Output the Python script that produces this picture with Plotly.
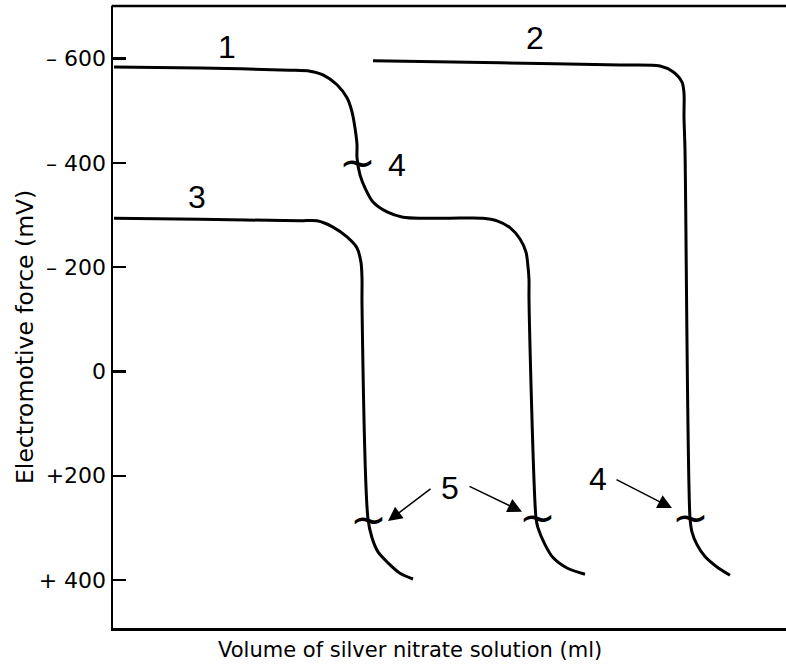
import plotly.graph_objects as go

# Volume axis is unscaled in the original (arbitrary units)
curve1_x = [0.1, 8.7, 17.7, 19.7, 21.0, 22.4, 23.4, 23.9, 24.2, 24.4, 24.4, 24.7, 25.2, 26.0,
            27.4, 29.0, 31.0, 33.7, 37.0, 38.4, 39.7, 40.7, 41.3, 41.5, 41.6, 41.6, 42.3,
            42.5, 43.2, 44.0, 45.4, 47.2]
curve1_y = [-584, -582, -578, -576, -569, -550, -525, -498, -467, -435, -410, -377, -352, -325,
            -306, -296, -294, -294, -294, -289, -276, -254, -229, -201, -176, -137, 281,
            300, 332, 357, 377, 389]

curve2_x = [26.0, 38.7, 50.7, 54.7, 56.0, 56.9, 57.1, 57.1, 57.2, 57.7, 57.9, 58.4, 59.2, 60.4, 61.7]
curve2_y = [-596, -592, -588, -586, -575, -555, -534, -488, -425, 281, 308, 332, 355, 375, 391]

curve3_x = [0.1, 8.7, 18.7, 20.4, 22.0, 23.4, 24.4, 24.8, 24.9, 24.9, 25.5, 25.9, 26.5, 27.5, 28.7, 30.0]
curve3_y = [-294, -292, -289, -289, -277, -258, -237, -209, -179, -128, 283, 319, 346, 367, 387, 398]

# curve number labels
label_text = ["1", "2", "3", "4", "5", "4"]
label_x = [11.4, 42.2, 8.4, 28.4, 33.7, 48.5]
label_y = [-622, -640, -335, -396, 223, 206]

# break marks (~) on the curves
break_x = [24.4, 25.5, 42.4, 57.7]
break_y = [-400, 283, 281, 281]

# arrows: (tail) -> (head)
arrow_tail_x = [31.9, 35.5, 50.2]
arrow_tail_y = [223, 219, 206]
arrow_head_x = [27.5, 40.9, 55.9]
arrow_head_y = [287, 269, 262]

tick_vals = [-600, -400, -200, 0, 200, 400]
tick_text = ["\u2013 600", "\u2013 400", "\u2013 200", "0", "+200", "+ 400"]

x_title = "Volume of silver nitrate solution (ml)"
y_title = "Electromotive force (mV)"

FONT = "DejaVu Sans, sans-serif"
LFONT = "Liberation Sans, Arial, sans-serif"

W, H = 786, 666
ML, MR, MT, MB = 113, 0, 6, 38
X_MAX = 67.3

fig = go.Figure()
for xs, ys, nm in [(curve1_x, curve1_y, "1"), (curve2_x, curve2_y, "2"), (curve3_x, curve3_y, "3")]:
    fig.add_trace(go.Scatter(x=xs, y=ys, mode="lines", name=nm,
                             line=dict(color="black", width=3, shape="spline", smoothing=0.8),
                             hoverinfo="skip"))

annotations = []
for t, x, y in zip(label_text, label_x, label_y):
    annotations.append(dict(x=x, y=y, xref="x", yref="y", text=t, showarrow=False,
                            font=dict(family=LFONT, size=32, color="black")))
for x, y in zip(break_x, break_y):
    annotations.append(dict(x=x, y=y, xref="x", yref="y", text="~", showarrow=False,
                            font=dict(family="DejaVu Sans", size=44, color="black")))
for tx, ty, hx, hy in zip(arrow_tail_x, arrow_tail_y, arrow_head_x, arrow_head_y):
    annotations.append(dict(x=hx, y=hy, ax=tx, ay=ty, xref="x", yref="y", axref="x", ayref="y",
                            text="", showarrow=True, arrowhead=2, arrowsize=1.9,
                            arrowwidth=1.5, arrowcolor="black"))

# axis titles, placed where they sit in the original
pw, ph = W - ML - MR, H - MT - MB
annotations.append(dict(text=x_title, xref="paper", yref="paper",
                        x=(410 - ML) / pw, y=-(650 - (H - MB)) / ph,
                        xanchor="center", yanchor="middle", showarrow=False,
                        font=dict(family=FONT, size=21, color="black")))
annotations.append(dict(text=y_title, xref="paper", yref="paper",
                        x=-(ML - 25) / pw, y=((H - MB) - 337) / ph, textangle=-90,
                        xanchor="center", yanchor="middle", showarrow=False,
                        font=dict(family=FONT, size=23.5, color="black")))

fig.update_layout(
    width=W, height=H,
    margin=dict(l=ML, r=MR, t=MT, b=MB, autoexpand=False),
    paper_bgcolor="white", plot_bgcolor="white",
    showlegend=False,
    font=dict(family=FONT, color="black"),
    annotations=annotations,
    # top frame line only (open on the right, as in the original)
    shapes=[dict(type="line", xref="paper", yref="paper", x0=-0.002, x1=1.02, y0=1, y1=1,
                 line=dict(color="black", width=2.5))],
    xaxis=dict(range=[0, X_MAX], showgrid=False, zeroline=False, showticklabels=False,
               ticks="", showline=True, mirror=False, linecolor="black", linewidth=2.5,
               automargin=False),
    yaxis=dict(range=[492, -701], showgrid=False, zeroline=False, mirror=False,
               tickmode="array", tickvals=tick_vals, ticktext=tick_text,
               ticks="inside", ticklen=13, tickwidth=2.5, tickcolor="black",
               tickfont=dict(family=FONT, size=22), ticklabelstandoff=0,
               showline=True, linecolor="black", linewidth=2.5, automargin=False),
)

fig.write_html("out.html",
               config={"displayModeBar": False, "staticPlot": True},
               post_script="document.body.style.margin='0';document.body.style.overflow='hidden';"
                           "document.documentElement.style.overflow='hidden';")
